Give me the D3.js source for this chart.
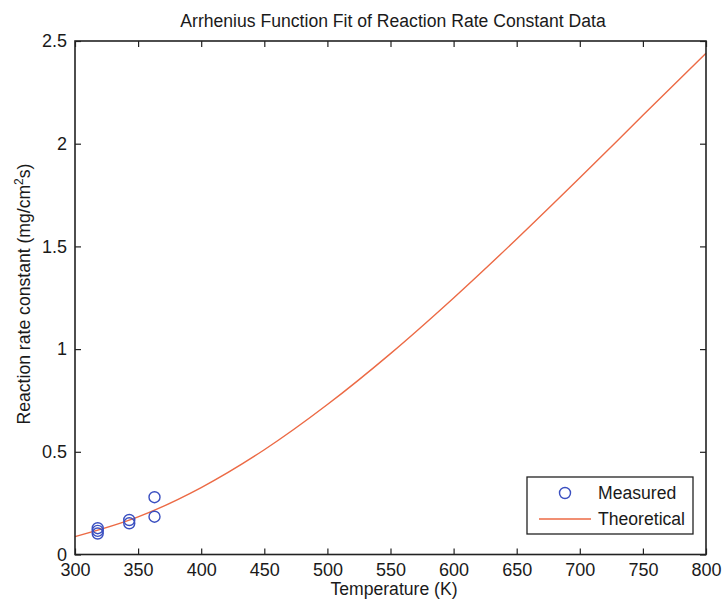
<!DOCTYPE html>
<html><head><meta charset="utf-8">
<script src="https://cdn.jsdelivr.net/npm/d3@7"></script>
<style>body{margin:0;background:#fff}svg{display:block}text{font-family:"Liberation Sans",Arial,sans-serif;fill:#1a1a1a}</style>
</head><body>
<svg id="c" width="725" height="601"></svg>
<script>
const xTicks = [300,350,400,450,500,550,600,650,700,750,800];
const yTicks = [0,0.5,1,1.5,2,2.5];
const measuredT = [318,318,318,343,343,363,363];
const measuredK = [0.128,0.115,0.102,0.168,0.152,0.279,0.184];
const theoT = [300,350,400,450,500,550,600,650,700,750,800];
const theoK = [0.087,0.183,0.326,0.51,0.73,0.978,1.249,1.536,1.834,2.138,2.44];

const svg = d3.select('#c');
const L=75,R=706,T=41,B=554.5;
const x = d3.scaleLinear().domain([300,800]).range([L,R]);
const y = d3.scaleLinear().domain([0,2.5]).range([B,T]);

// curve
const line = d3.line().x(d=>x(d[0])).y(d=>y(d[1])).curve(d3.curveMonotoneX);
svg.append('path').datum(theoT.map((t,i)=>[t,theoK[i]]))
  .attr('d',line).attr('fill','none').attr('stroke','#ec6a45').attr('stroke-width',1.4);

// points
svg.selectAll('circle.m').data(measuredT.map((t,i)=>[t,measuredK[i]])).enter()
  .append('circle').attr('class','m').attr('cx',d=>x(d[0])).attr('cy',d=>y(d[1])).attr('r',5.5)
  .attr('fill','none').attr('stroke','#3a4fc0').attr('stroke-width',1.4);

// axes (inward ticks, mirrored)
const tl=6;
const ax = g=>g.selectAll('.domain').remove();
svg.append('g').attr('transform',`translate(0,${B})`)
  .call(d3.axisBottom(x).tickValues(xTicks).tickSize(-tl).tickPadding(9).tickFormat(d3.format('d'))).call(ax)
  .call(g=>g.selectAll('text').attr('font-size',18).attr('fill','#1a1a1a'))
  .call(g=>g.selectAll('line').attr('stroke','#222').attr('stroke-width',1.2));
svg.append('g').attr('transform',`translate(0,${T})`)
  .call(d3.axisTop(x).tickValues(xTicks).tickSize(-tl).tickFormat('')).call(ax)
  .call(g=>g.selectAll('line').attr('stroke','#222').attr('stroke-width',1.2));
svg.append('g').attr('transform',`translate(${L},0)`)
  .call(d3.axisLeft(y).tickValues(yTicks).tickSize(-tl).tickPadding(8).tickFormat(d=>String(d))).call(ax)
  .call(g=>g.selectAll('text').attr('font-size',18).attr('fill','#1a1a1a'))
  .call(g=>g.selectAll('line').attr('stroke','#222').attr('stroke-width',1.2));
svg.append('g').attr('transform',`translate(${R},0)`)
  .call(d3.axisRight(y).tickValues(yTicks).tickSize(-tl).tickFormat('')).call(ax)
  .call(g=>g.selectAll('line').attr('stroke','#222').attr('stroke-width',1.2));
svg.append('rect').attr('x',L).attr('y',T).attr('width',R-L).attr('height',B-T)
  .attr('fill','none').attr('stroke','#222').attr('stroke-width',1.6);

// title & labels
svg.append('text').attr('x',393).attr('y',27).attr('text-anchor','middle').attr('font-size',17.6).text('Arrhenius Function Fit of Reaction Rate Constant Data');
svg.append('text').attr('x',394).attr('y',595).attr('text-anchor','middle').attr('font-size',17.6).text('Temperature (K)');
const yl = svg.append('text').attr('transform',`translate(30,294) rotate(-90)`).attr('text-anchor','middle').attr('font-size',17.6);
yl.append('tspan').text('Reaction rate constant (mg/cm');
yl.append('tspan').attr('font-size',12).attr('dy',-7).text('2');
yl.append('tspan').attr('dy',7).text('s)');

// legend
const lg = svg.append('g');
lg.append('rect').attr('x',527).attr('y',477).attr('width',166).attr('height',57).attr('fill','#fff').attr('stroke','#222').attr('stroke-width',1.3);
lg.append('circle').attr('cx',565).attr('cy',493).attr('r',5.5).attr('fill','none').attr('stroke','#3a4fc0').attr('stroke-width',1.4);
lg.append('line').attr('x1',539).attr('x2',591).attr('y1',519).attr('y2',519).attr('stroke','#ec6a45').attr('stroke-width',1.4);
lg.append('text').attr('x',598).attr('y',499).attr('font-size',17.6).text('Measured');
lg.append('text').attr('x',598).attr('y',525).attr('font-size',17.6).text('Theoretical');
</script>
</body></html>
